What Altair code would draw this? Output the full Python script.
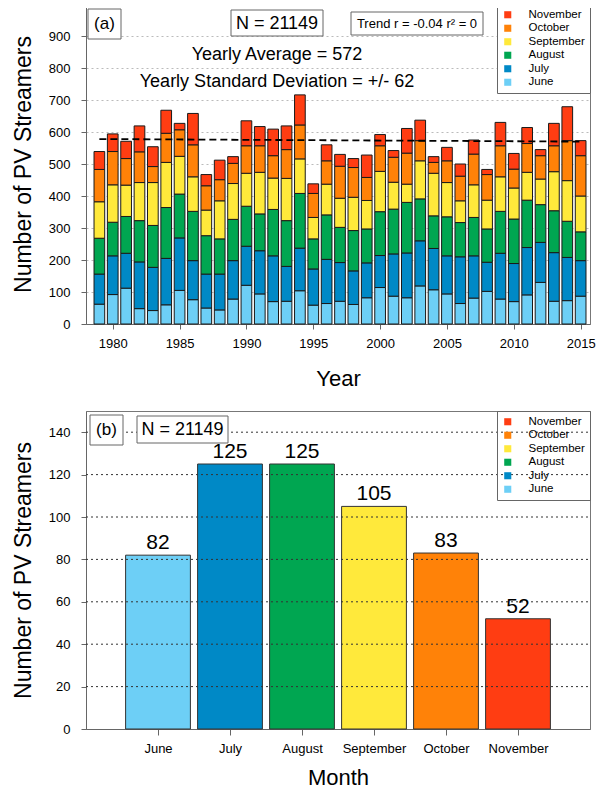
import json
import altair as alt
import pandas as pd

# ---------------- data ----------------
years = list(range(1979, 2016))
months = ["June", "July", "August", "September", "October", "November"]
colors = ["#6DCFF6", "#0089C6", "#00A651", "#FFE93B", "#FF8208", "#FF3D12"]

june = [62, 92, 112, 48, 42, 60, 105, 76, 50, 44, 78, 121, 94, 70, 71, 104, 59, 64, 71,
        61, 82, 114, 87, 82, 119, 107, 94, 64, 81, 102, 78, 70, 91, 130, 71, 73, 87]
july = [94, 121, 109, 146, 135, 145, 164, 122, 106, 112, 120, 122, 135, 143, 109, 133, 113, 138, 121,
        105, 109, 100, 132, 140, 141, 129, 119, 146, 132, 91, 143, 119, 148, 125, 152, 135, 111]
august = [112, 105, 115, 129, 131, 159, 137, 154, 120, 110, 129, 125, 115, 145, 143, 171, 94, 139, 110,
          126, 106, 137, 140, 158, 131, 102, 122, 107, 120, 104, 131, 139, 148, 118, 131, 113, 90]
september = [114, 117, 98, 119, 134, 141, 118, 108, 80, 119, 112, 103, 130, 98, 132, 108, 67, 96, 91,
             104, 89, 126, 84, 57, 119, 133, 107, 68, 102, 90, 108, 97, 87, 80, 122, 127, 112]
october = [101, 104, 83, 96, 50, 91, 83, 100, 76, 66, 63, 86, 83, 70, 90, 106, 75, 73, 100,
           93, 72, 80, 78, 97, 63, 34, 68, 77, 96, 80, 97, 59, 90, 73, 81, 125, 126]
november = [56, 55, 54, 81, 62, 72, 20, 98, 35, 61, 21, 78, 60, 83, 74, 94, 30, 50, 37,
            28, 70, 35, 21, 77, 64, 18, 42, 38, 44, 16, 73, 49, 50, 19, 70, 106, 47]

trend_years = [1979, 2015]
trend_values = [578, 570]

monthly_mean = [82, 125, 125, 105, 83, 52]

year_ticks = [1980, 1985, 1990, 1995, 2000, 2005, 2010, 2015]
count_ticks_a = [0, 100, 200, 300, 400, 500, 600, 700, 800, 900]
count_ticks_b = [0, 20, 40, 60, 80, 100, 120, 140]
grid_b = [20, 40, 60, 80, 100, 120, 140]

# ---------------- tables ----------------
series = [june, july, august, september, october, november]
rows = []
for mi, (m, vals) in enumerate(zip(months, series), start=1):
    for y, v in zip(years, vals):
        rows.append({"year": y, "month": m, "mi": mi, "value": v})
df_a = pd.DataFrame(rows)
df_trend = pd.DataFrame({"year": trend_years, "value": trend_values})
df_b = pd.DataFrame({"month": months, "mi": list(range(1, 7)), "value": monthly_mean})
df_grid = pd.DataFrame({"g": grid_b})
one = pd.DataFrame({"k": [0]})

FONT = "Liberation Sans"
W = 504
HA = 320
HB = 318
legend_domain = months[::-1]
legend_range = colors[::-1]


def make_legend(fill):
    kw = dict(title=None, orient="top-right", offset=0, padding=5, strokeColor="#666",
              symbolType="square", symbolSize=50, symbolStrokeWidth=0,
              labelFontSize=11.5, labelFont=FONT, labelColor="black",
              rowPadding=0.5, labelOffset=15)
    if fill:
        kw["fillColor"] = "white"
    return alt.Legend(**kw)


def box(x1, y1, x2, y2):
    return alt.Chart(one).mark_rect(fill="white", stroke="#666", strokeWidth=1).encode(
        x=alt.value(x1), x2=alt.value(x2), y=alt.value(y1), y2=alt.value(y2))


def label(txt, x, y, size):
    return alt.Chart(one).mark_text(text=txt, fontSize=size, font=FONT, align="center",
                                    baseline="middle", color="black").encode(
        x=alt.value(x), y=alt.value(y))


# ---------------- panel (a) ----------------
scale_xa = alt.Scale(domain=[1978, 2015.7], nice=False, zero=False)
axis_xa = alt.Axis(values=year_ticks, format="d", title="Year", titleFontSize=22,
                   labelFontSize=13, tickSize=5, labelPadding=8, titlePadding=18,
                   grid=False, labelOverlap=False)
scale_ya = alt.Scale(domain=[0, 1000], nice=False)
axis_ya = alt.Axis(values=count_ticks_a, title="Number of PV Streamers", titleFontSize=23,
                   labelFontSize=13, tickSize=5, labelPadding=11, titlePadding=13,
                   grid=True, gridColor="#bbbbbb", gridDash=[2, 3], gridWidth=1,
                   labelOverlap=False)

bars_a = alt.Chart(df_a).transform_stack(
    stack="value", as_=["y0", "y1"], groupby=["year"],
    sort=[alt.SortField("mi", order="ascending")]
).transform_calculate(
    x0="datum.year - 0.4", x1="datum.year + 0.4"
).mark_rect(stroke="#1a1a1a", strokeWidth=1).encode(
    x=alt.X("x0:Q", scale=scale_xa, axis=axis_xa), x2="x1:Q",
    y=alt.Y("y0:Q", scale=scale_ya, axis=axis_ya), y2="y1:Q",
    color=alt.Color("month:N", scale=alt.Scale(domain=legend_domain, range=legend_range),
                    legend=make_legend(True)),
)

trend = alt.Chart(df_trend).mark_line(color="black", strokeDash=[7, 4], strokeWidth=1.8).encode(
    x=alt.X("year:Q", scale=scale_xa, axis=axis_xa),
    y=alt.Y("value:Q", scale=scale_ya, axis=axis_ya))

panel_a = alt.layer(
    bars_a, trend,
    box(2, 5, 35, 35), label("(a)", 18.5, 20, 17),
    box(145, 6, 237, 32), label("N = 21149", 191, 19.5, 18),
    box(265, 8, 397, 31), label("Trend r = -0.04 r\u00b2 = 0", 331, 19.5, 13),
    label("Yearly Average = 572", 191, 51, 18),
    label("Yearly Standard Deviation = +/-  62", 191, 78, 18),
).properties(width=W, height=HA)

# ---------------- panel (b) ----------------
label_expr = json.dumps([""] + months) + "[datum.value]"
scale_xb = alt.Scale(domain=[0, 7], nice=False, zero=False)
axis_xb = alt.Axis(values=list(range(1, 7)), labelExpr=label_expr, title="Month",
                   titleFontSize=22, labelFontSize=13, tickSize=6, labelPadding=7,
                   titlePadding=12, grid=False, labelOverlap=False)
scale_yb = alt.Scale(domain=[0, 150], nice=False)
axis_yb = alt.Axis(values=count_ticks_b, title="Number of PV Streamers", titleFontSize=23,
                   labelFontSize=13, tickSize=5, labelPadding=11, titlePadding=13,
                   grid=False, labelOverlap=False)

bars_b = alt.Chart(df_b).transform_calculate(
    x0="datum.mi - 0.45", x1="datum.mi + 0.45"
).mark_rect(stroke="#333333", strokeWidth=1).encode(
    x=alt.X("x0:Q", scale=scale_xb, axis=axis_xb), x2="x1:Q",
    y=alt.Y("value:Q", scale=scale_yb, axis=axis_yb), y2=alt.datum(0),
    color=alt.Color("month:N", scale=alt.Scale(domain=legend_domain, range=legend_range),
                    legend=make_legend(False)),
)

grid_rules = alt.Chart(df_grid).mark_rule(color="#333333", strokeDash=[2, 3], strokeWidth=1).encode(
    y=alt.Y("g:Q", scale=scale_yb, axis=axis_yb), x=alt.value(0), x2=alt.value(W))

values_b = alt.Chart(df_b).mark_text(baseline="bottom", dy=-2, fontSize=21, font=FONT,
                                     color="black").encode(
    x=alt.X("mi:Q", scale=scale_xb, axis=axis_xb),
    y=alt.Y("value:Q", scale=scale_yb, axis=axis_yb),
    text="value:Q")

panel_b = alt.layer(
    bars_b, grid_rules, values_b,
    box(4, 4, 37, 34), label("(b)", 20.5, 19, 17),
    box(51, 5, 142, 32), label("N = 21149", 96.5, 18.5, 18),
).properties(width=W, height=HB)

chart = alt.vconcat(panel_a, panel_b, spacing=20).resolve_scale(
    color="independent"
).properties(
    padding={"left": 3, "top": -5, "right": 0, "bottom": 0},
    background="white",
).configure_view(
    stroke="#777777", strokeWidth=1
).configure_axis(
    labelFont=FONT, titleFont=FONT, titleFontWeight="normal", labelColor="black",
    titleColor="black", domainColor="#666666", tickColor="#666666"
)

chart.save("out.html", embed_options={"renderer": "svg", "actions": False})
